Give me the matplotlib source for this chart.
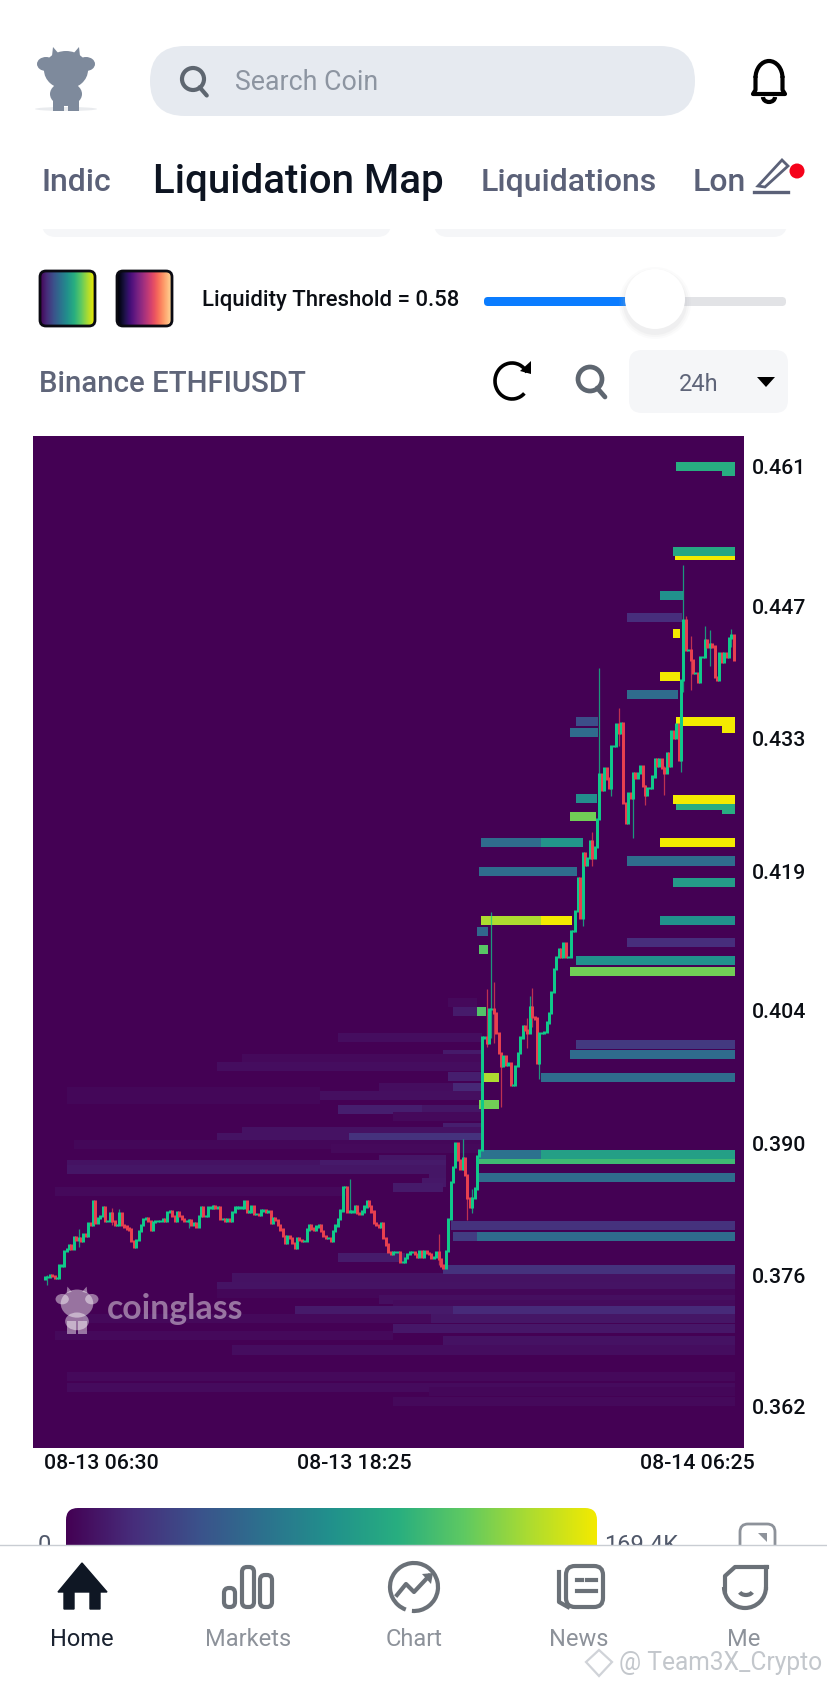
import matplotlib
matplotlib.use("Agg")
import matplotlib.pyplot as plt
import numpy as np
from matplotlib.colors import LinearSegmentedColormap
from matplotlib.patches import Circle, Ellipse, FancyBboxPatch, Polygon, Rectangle, Arc

# 5 minute closes
closes_a = [.3757,.3757,.3759,.3758,.3756,.3756,.3769,.3769,.3784,.3786,.3790,.3786,.3799,.3796,.3798,.3795,
            .3802,.3800,.3814,.3812,.3837,.3814,.3819,.3821,.3830,.3816,.3816,.3824,.3816,.3812,.3812,.3824,
            .3812,.3810,.3808,.3807,.3795,.3789,.3796,.3805,.3812,.3818,.3819,.3816,.3807,.3815,.3816,.3816,
            .3816,.3818,.3816,.3825,.3826,.3821,.3816,.3825,.3821,.3818,.3816,.3816,.3817,.3812,.3814,.3810,
            .3821,.3830,.3821,.3821,.3830,.3830,.3832,.3830,.3830,.3818,.3818,.3816,.3818,.3816,.3825,.3830,.3830]
closes_b = [.3830,.3830,.3837,.3826,.3826,.3831,.3823,.3823,.3822,.3827,.3827,.3826,.3826,.3814,.3819,.3817,
            .3812,.3807,.3800,.3793,.3800,.3798,.3793,.3788,.3798,.3796,.3795,.3795,.3807,.3811,.3808,.3807,
            .3810,.3812,.3805,.3800,.3798,.3798,.3795,.3805,.3811,.3818,.3827,.3852,.3852,.3826,.3826,.3826,
            .3831,.3824,.3823,.3826,.3831,.3837,.3832,.3826,.3814,.3812,.3810,.3814,.3798,.3791,.3783,.3781,
            .3783,.3783,.3783,.3773,.3773,.3777,.3781,.3783,.3783,.3781,.3778,.3784,.3778,.3784,.3782,.3781,
            .3777,.3778,.3783,.3776,.3769,.3767,.3784,.3818]
closes_c = [.3857,.3873,.3898,.3880,.3871,.3882,.3864,.3840,.3831,.3840,.3850,.3884,.3891]
closes_d = [.4009,.4009,.4003,.4039,.4039,.4035,.4014,.3993,.3979,.3989,.3980,.3982,.3959,.3959,.3979,.3993,
            .4009,.4021,.4017,.4014,.4041,.4031,.4029,.3982,.4014,.4014,.4015,.4025,.4035,.4057,.4081,.4094,
            .4102,.4094,.4108,.4094,.4094,.4121,.4121,.4142]
closes_e = [.4177,.4135,.4203,.4191,.4198,.4216,.4198,.4210,.4239,.4286,.4270,.4293,.4282,.4272,.4316,.4316,
            .4339,.4330,.4340,.4256,.4235,.4267,.4262,.4288,.4283,.4288,.4295,.4274,.4265,.4272,.4272,.4284,
            .4302,.4295,.4302,.4293,.4288,.4309,.4295,.4332,.4325,.4339,.4302,.4386,.4449]
closes_f = [.4417,.4417,.4407,.4393,.4393,.4384,.4410,.4410,.4428,.4421,.4423,.4421,.4389,.4386,.4414,.4405,
            .4414,.4410,.4430,.4433,.4407]
closes = closes_a + closes_b + closes_c + closes_d + closes_e + closes_f

# long wicks only: candle number, low, high
wick_i = [1, 14, 28, 31, 60, 70, 127, 164, 174, 176, 178, 184, 186, 187, 190, 201, 202, 203, 206, 224,
          228, 231, 236, 239, 245, 250, 258, 265, 266, 267, 269, 275, 277, 286]
wick_lo = [.3748,.3789,.3812,.3812,.3808,.3828,.3826,.3770,.3870,.3817,.3824,.3999,.4009,.4003,.3936,.3998,.4030,.4020,.3965,.4127,
           .4190,.4286,.4263,.4316,.4219,.4254,.4265,.4289,.4373,.4417,.4375,.4410,.4400,.4420]
wick_hi = [.3759,.3807,.3830,.3828,.3818,.3833,.3860,.3802,.3902,.3858,.3850,.4060,.4141,.4068,.3989,.4030,.4053,.4061,.4000,.4180,
           .4226,.4398,.4286,.4356,.4262,.4275,.4295,.4302,.4507,.4453,.4432,.4442,.4438,.4439]

# brighter liquidity levels: price, first candle, last candle, size in K
strong_price = [.4517,.4521,.4605,.4610,.4475,.4451,.4435,.4389,.4370,.4335,.4342,.4342,.4330,.4253,.4249,.4260,.4261,.4242,
                .4214,.4214,.4214,.4195,.4184,.4172,.4132,.4132,.4132,.4121,.4102,.4109,.4090,.4079,.4037,.4002,
                .3991,.3967,.3967,.3939,.3881,.3886,.3886,.3862,.3811,.3800,.3800,.3765]
strong_start = [262.6,261.7,282,263,256.3,242.5,261.8,256.3,242.5,282,263,221.4,218.6,263,282,261.8,221.4,218.6,
                256.3,181.8,206.5,242.5,180.8,261.8,181.8,206.5,256.3,180,180.8,242.5,221.4,218.6,180,221.4,
                218.6,206.5,182.8,180.8,181,181,206.5,181,169,180,170,166]
strong_end = [287.5,287.5,287.5,287.5,265.7,265.3,264.6,264.6,263.9,287.5,287.5,230.6,230.6,287.5,287.5,287.5,229.9,229.6,
              287.5,206.5,224.3,287.5,221.5,287.5,206.5,219.6,287.5,184.6,184.6,287.5,287.5,287.5,183.6,287.5,
              287.5,287.5,189.3,189.3,287.5,206.5,287.5,287.5,287.5,287.5,180,287.5]
strong_k = [169,100,105,105,85,22,169,169,60,169,169,40,60,105,105,169,82,132,
            169,60,88,60,60,92,148,169,85,56,125,22,85,132,122,28,
            60,60,148,132,115,64,95,60,24,60,30,24]

# faint levels under the price
faint_price = [.4046,.4037,.4009,.3991,.3987,.3979,.3968,.3956,.3956,.3952,.3944,.3948,.3933,.3933,.3926,.3914,.3910,.3904,.3904,
               .3896,.3892,.3881,.3875,.3875,.3870,.3861,.3856,.3851,.3847,.3777,.3756,.3747,.3740,.3733,.3728,.3722,.3722,
               .3713,.3713,.3703,.3695,.3690,.3680,.3652,.3641,.3636,.3626]
faint_start = [168,170,122,166,82,71.5,168,139,170,9,9,114.6,122,157,145,166,82,71.5,126.6,
               12,119,139,9,114.6,9,160,157,145,4,122,78,71.5,71.5,139,145,170,104,
               160.7,16,145,4,166,78,9,9,160,145]
faint_end = [180,180,182,182,182,182,182,182,182,114.6,114.6,182,157,182,182,182,182,126.6,182,
             182,182,167,114.6,167,167,167,167,166,126,150,287.5,287.5,287.5,287.5,287.5,287.5,170,
             287.5,160.7,287.5,145,287.5,287.5,287.5,287.5,287.5,287.5]
faint_k = [4,13,6,12,4,6,14,6,19,3,3,7,14,10,4,14,8,8,24,
           3,4,10,8,12,10,10,11,12,4,13,8,9,3,7,5,20,12,
           10,4,11,4,8,6,4,5,3,4]

# the app rounds its tick labels, so the marks sit a little off the printed values
y_ticks = [.461,.44632,.43243,.41843,.40377,.38977,.37589,.362]
y_labels = ["0.461","0.447","0.433","0.419","0.404","0.390","0.376","0.362"]
x_ticks = [23.3,128.8,272]
x_labels = ["08-13 06:30","08-13 18:25","08-14 06:25"]
k_max = 169.4

PURPLE = "#440154"
heat = LinearSegmentedColormap.from_list(
    "heat", ["#440154", "#472d7b", "#3b528b", "#2c728e", "#21918c", "#28ae80", "#5ec962", "#addc30", "#f3ea00"])
GREEN = "#10c98a"
RED = "#e8404f"

fig = plt.figure(figsize=(8.28, 16.87), dpi=100, facecolor="white")

def px_axes(x0, y0, x1, y1):
    return fig.add_axes([x0/828, 1-y1/1687, (x1-x0)/828, (y1-y0)/1687])

# main heatmap panel
ax = px_axes(33, 436, 744, 1448)
ax.set_facecolor(PURPLE)
ax.set_xlim(-5, 291.25)
ax.set_ylim(.35768, .46426)
for s in ax.spines.values():
    s.set_visible(False)

ax.barh(faint_price, np.array(faint_end)-np.array(faint_start), left=faint_start, height=.00095,
        color=heat(np.array(faint_k)/k_max), linewidth=0)
ax.barh(strong_price, np.array(strong_end)-np.array(strong_start), left=strong_start, height=.00095,
        color=heat(np.array(strong_k)/k_max), linewidth=0)

# candles, open is the close before
t = np.arange(len(closes))
c = np.array(closes)
o = np.r_[c[0]-.0002, c[:-1]]
col = [GREEN if b >= a else RED for a, b in zip(o, c)]
for i, lo, hi in zip(wick_i, wick_lo, wick_hi):
    ax.vlines(i, lo, hi, color=col[i], lw=0.9, alpha=.75, zorder=3)
ax.vlines(t, np.minimum(o, c)-.00012, np.maximum(o, c)+.00012, color=col, lw=2.15, zorder=4)

ax.yaxis.tick_right()
ax.set_yticks(y_ticks)
ax.set_yticklabels(y_labels, fontsize=15.3, family="Roboto", fontweight="medium", color="#0b0e14")
ax.set_xticks(x_ticks)
ax.set_xticklabels(x_labels, fontsize=15.3, family="Roboto", fontweight="medium", color="#0b0e14")
ax.tick_params(axis="y", length=0, pad=5.5)
ax.tick_params(axis="x", length=0, pad=4.5)

# everything around the chart, drawn in pixels
ui = fig.add_axes([0, 0, 1, 1], zorder=5)
ui.patch.set_alpha(0)
ui.set_xlim(0, 828)
ui.set_ylim(1687, 0)
ui.axis("off")

def pill(x0, y0, x1, y1, r, **kw):
    p = FancyBboxPatch((x0+r, y0+r), x1-x0-2*r, y1-y0-2*r, boxstyle=f"round,pad={r},rounding_size={r}",
                       linewidth=kw.pop("linewidth", 0), **kw)
    ui.add_patch(p)
    return p

def txt(x, y, s, size, color, ha="left", weight="normal", family="Roboto", **kw):
    return ui.text(x, y, s, fontsize=size, color=color, ha=ha, va="center", fontweight=weight, family=family, **kw)

def cow(cx, cy, s, color, alpha=1.0, z=3):
    parts = [Ellipse((cx, cy-10*s), 44*s, 38*s), Ellipse((cx-20*s, cy-16*s), 18*s, 14*s),
             Ellipse((cx+20*s, cy-16*s), 18*s, 14*s), Ellipse((cx, cy+14*s), 32*s, 24*s),
             Rectangle((cx-13*s, cy+14*s), 11*s, 17*s), Rectangle((cx+2*s, cy+14*s), 11*s, 17*s),
             Polygon([(cx-14*s, cy-24*s), (cx-13*s, cy-33*s), (cx-7*s, cy-26*s)]),
             Polygon([(cx+14*s, cy-24*s), (cx+13*s, cy-33*s), (cx+7*s, cy-26*s)])]
    for p in parts:
        p.set(facecolor=color, edgecolor="none", alpha=alpha, zorder=z)
        ui.add_patch(p)

def magnifier(cx, cy, r, color, lw):
    ui.add_patch(Circle((cx, cy), r, fill=False, ec=color, lw=lw))
    ui.plot([cx+r*.6, cx+r*1.25], [cy+r*.75, cy+r*1.5], color=color, lw=lw, solid_capstyle="round")

cow(66, 80, 1.0, "#7e8a9c")
ui.add_patch(Ellipse((66, 109), 62, 4, fc="#e9ebee", ec="none", zorder=1))

pill(150, 46, 695, 116, 35, fc="#e6eaf0")
magnifier(193, 79, 11, "#5e6670", 3)
txt(235, 82, "Search Coin", 19.3, "#8d95a1")

# bell
ui.add_patch(Arc((769, 78), 27, 34, theta1=180, theta2=360, ec="black", lw=3))
ui.plot([755.5, 755.5, 753, 785, 782.5, 782.5], [78, 90, 94, 94, 90, 78], color="black", lw=3)
ui.add_patch(Arc((769, 97), 12, 10, theta1=0, theta2=180, ec="black", lw=3))

txt(42, 182, "Indic", 23, "#5b6178", weight="medium")
txt(153, 182, "Liquidation Map", 29, "#0d1421", weight="medium")
txt(481, 182, "Liquidations", 23, "#5b6178", weight="medium")
txt(693, 182, "Lon", 23, "#5b6178", weight="medium")
ui.plot([754, 788], [192, 192], color="#5b6178", lw=2.4)
ui.add_patch(Polygon([(758, 186), (782, 160), (788, 166), (765, 187)], fill=False, ec="#5b6178", lw=2))
ui.add_patch(Circle((797, 171), 7.5, fc="#f5021a", ec="none"))

# bottoms of the two cards scrolled away
for x0, x1 in [(42, 391), (434, 787)]:
    p = pill(x0, 200, x1, 237, 14, fc="#f5f6f8")
    p.set_clip_path(Rectangle((0, 229), 828, 12, transform=ui.transData))

# palette swatches
grad = np.linspace(0, 1, 256).reshape(1, -1)
for x0, x1, cmap, top in [(40, 95, heat, 1.0), (117, 172, "magma", 1.08)]:
    box = pill(x0, 271, x1, 326, 6, fc="none", ec="#0a0a12", linewidth=2, zorder=4)
    im = ui.imshow(grad, extent=(x0, x1, 326, 271), cmap=cmap, vmin=0, vmax=top, aspect="auto", zorder=3)
    im.set_clip_path(box)
ui.set_xlim(0, 828)
ui.set_ylim(1687, 0)

txt(202, 300, "Liquidity Threshold = 0.58", 15.9, "#0b0e14", weight="medium")
pill(484, 297, 786, 306, 4, fc="#e2e3e6")
pill(484, 297, 630, 306, 4, fc="#0a7cff")
for r, a in [(36, .05), (34, .07), (32, .1)]:
    ui.add_patch(Circle((655, 303), r, fc="#b9bbc0", ec="none", alpha=a, zorder=3))
ui.add_patch(Circle((655, 299), 30, fc="white", ec="none", zorder=4))

txt(39, 384, "Binance ETHFIUSDT", 21.2, "#5f6579", weight="medium")
ui.add_patch(Arc((512, 381), 34, 36, theta1=-315, theta2=-30, ec="black", lw=2.6))
ui.add_patch(Polygon([(520, 371), (531, 361), (531, 374)], fc="black", ec="none"))
magnifier(590, 379, 12, "#5e6670", 3.4)
pill(629, 350, 788, 413, 13, fc="#f5f6f8")
txt(699, 384, "24h", 17, "#5f6579", ha="center")
ui.add_patch(Polygon([(757, 377), (775, 377), (766, 387)], fc="black", ec="none"))

# chart watermark
cow(77, 1311, .74, "#ffffff", alpha=.45)
txt(107, 1309, "coinglass", 24.3, "#ffffff", weight="bold", family="Lato", alpha=.45)

# colour legend, cut off by the tab bar
bar = pill(66, 1508, 597, 1580, 12, fc="none")
im = ui.imshow(grad, extent=(66, 597, 1580, 1508), cmap=heat, aspect="auto", zorder=2)
im.set_clip_path(bar)
ui.set_xlim(0, 828)
ui.set_ylim(1687, 0)
txt(44, 1546, "0", 17, "#50586a", ha="center", zorder=2)
txt(604, 1546, "169.4K", 17, "#50586a", zorder=2)
pill(740, 1524, 775, 1570, 8, fc="none", ec="#8d929a", linewidth=2, zorder=2)
ui.add_patch(Polygon([(758, 1533), (767, 1533), (767, 1542)], fc="#8d929a", ec="none", zorder=2))

# tab bar
ui.add_patch(Rectangle((0, 1545), 828, 142, fc="white", ec="none", zorder=6))
ui.plot([0, 828], [1545, 1545], color="#c9cdd3", lw=1, zorder=7)
NAV = "#6b7178"
zz = dict(zorder=8)
ui.add_patch(Polygon([(58, 1592), (82, 1563), (107, 1592), (100, 1592), (100, 1609), (90, 1609), (90, 1592), (74, 1592),
                      (74, 1609), (64, 1609), (64, 1592)], fc="#0f1724", ec="#0f1724", lw=1, **zz))
for x0, x1, y0 in [(224, 235, 1588), (242, 254, 1567), (260, 272, 1575)]:
    pill(x0, y0, x1, 1607, 5, fc="none", ec=NAV, linewidth=3, **zz)
ui.add_patch(Arc((414, 1587), 48, 48, theta1=-250, theta2=95, ec=NAV, lw=3, **zz))
ui.plot([397, 406, 414, 429], [1595, 1584, 1592, 1576], color=NAV, lw=3, **zz)
ui.add_patch(Polygon([(422, 1574), (433, 1573), (431, 1584)], fc=NAV, ec="none", **zz))
pill(566, 1566, 603, 1607, 9, fc="none", ec=NAV, linewidth=3, **zz)
ui.plot([559, 559, 568], [1572, 1602, 1607], color=NAV, lw=3, **zz)
ui.plot([577, 582], [1580, 1580], color=NAV, lw=3, **zz)
ui.plot([587, 596], [1580, 1580], color=NAV, lw=3, **zz)
ui.plot([577, 596], [1591, 1591], color=NAV, lw=3, **zz)
ui.plot([767, 735, 725, 725], [1567, 1567, 1576, 1592], color=NAV, lw=3, **zz)
ui.add_patch(Arc((745, 1587), 42, 42, theta1=0, theta2=180, ec=NAV, lw=3, **zz))
ui.plot([766, 766], [1567, 1588], color=NAV, lw=3, **zz)
ui.add_patch(Arc((746, 1590), 14, 10, theta1=20, theta2=160, ec=NAV, lw=3, **zz))

for x, lab, color in zip([82, 248, 414, 579, 744], ["Home", "Markets", "Chart", "News", "Me"],
                         ["#1a2230", "#8d929a", "#8d929a", "#8d929a", "#8d929a"]):
    txt(x, 1640, lab, 17, color, ha="center", **zz)

txt(619, 1663, "@ Team3X_Crypto", 17.7, "#c3c7cc", **zz)
ui.add_patch(Polygon([(599, 1650), (612, 1662), (599, 1676), (586, 1662)], fill=False, ec="#d0d3d8", lw=1.6, **zz))

fig.savefig("out.png", dpi=100)
